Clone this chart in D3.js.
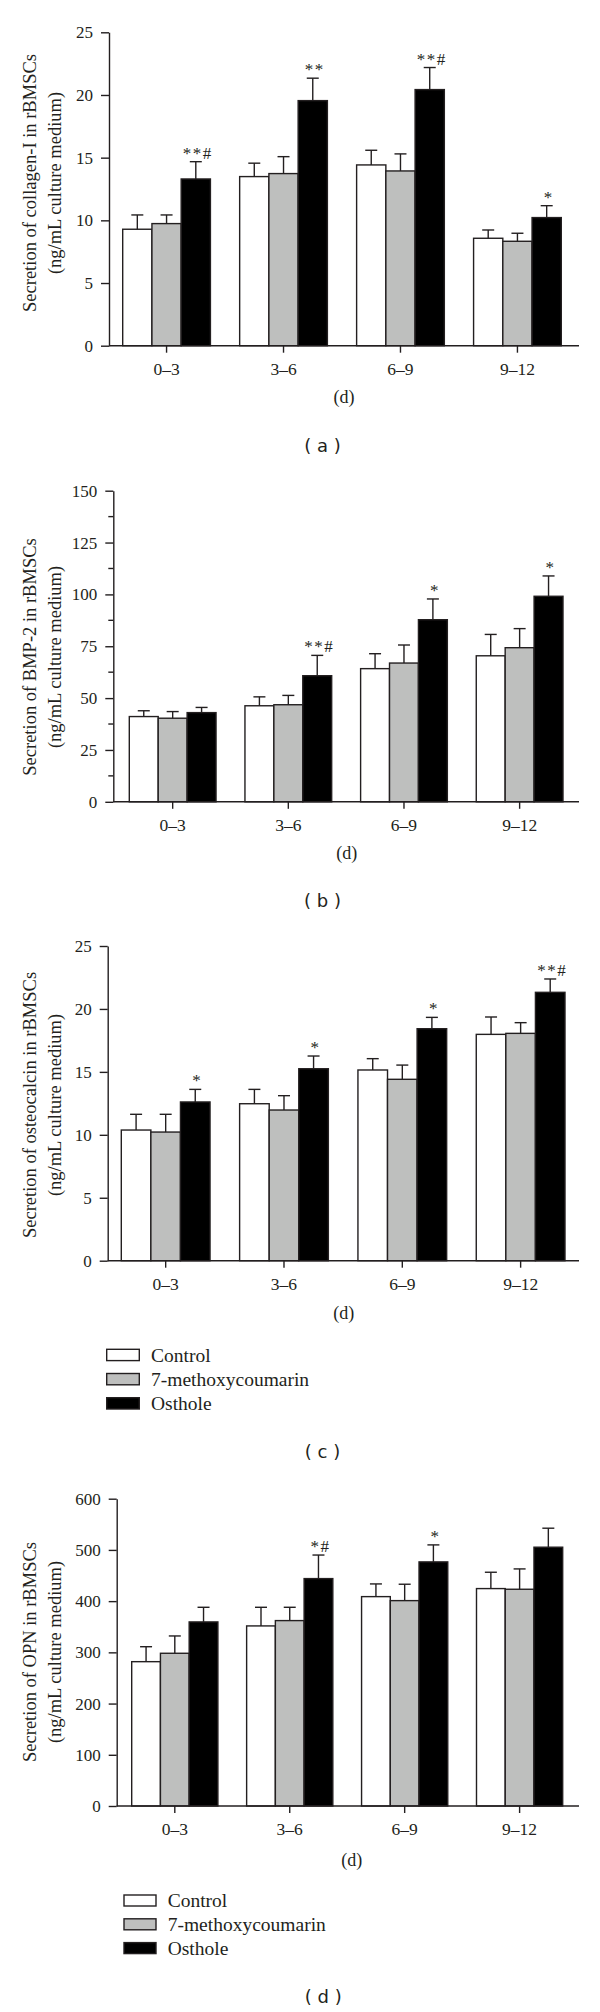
<!DOCTYPE html>
<html><head><meta charset="utf-8">
<script src="https://cdn.jsdelivr.net/npm/d3@7"></script>
<style>body{margin:0;background:#fff}</style>
</head><body>
<svg id="chart" width="600" height="2012"></svg>
<script>
const categories = ["0–3", "3–6", "6–9", "9–12"];
const seriesNames = ["Control", "7-methoxycoumarin", "Osthole"];
const seriesFill = ["#ffffff", "#bebfbe", "#000000"];

// (a) collagen-I
const collagenControl = [9.29, 13.49, 14.42, 8.57];
const collagenControlSD = [1.14, 1.07, 1.17, 0.66];
const collagenMC = [9.74, 13.73, 13.94, 8.33];
const collagenMCSD = [0.69, 1.35, 1.36, 0.64];
const collagenOst = [13.3, 19.55, 20.43, 10.22];
const collagenOstSD = [1.38, 1.79, 1.76, 0.95];
const collagenMarks = ["**#", "**", "**#", "*"];
const collagenTicks = [0, 5, 10, 15, 20, 25];

// (b) BMP-2
const bmpControl = [41.1, 46.3, 64.2, 70.4];
const bmpControlSD = [2.8, 4.3, 7.2, 10.3];
const bmpMC = [40.3, 46.8, 66.9, 74.3];
const bmpMCSD = [3.2, 4.5, 8.7, 9.2];
const bmpOst = [43.0, 60.8, 87.8, 99.1];
const bmpOstSD = [2.5, 9.8, 10.0, 9.8];
const bmpMarks = ["", "**#", "*", "*"];
const bmpTicks = [0, 25, 50, 75, 100, 125, 150];
const bmpMinorTicks = [12.5, 37.5, 62.5, 87.5, 112.5, 137.5];

// (c) osteocalcin
const ocnControl = [10.38, 12.47, 15.15, 17.98];
const ocnControlSD = [1.25, 1.14, 0.9, 1.38];
const ocnMC = [10.22, 11.97, 14.41, 18.06];
const ocnMCSD = [1.41, 1.14, 1.13, 0.85];
const ocnOst = [12.61, 15.25, 18.43, 21.32];
const ocnOstSD = [1.0, 1.01, 0.9, 1.06];
const ocnMarks = ["*", "*", "*", "**#"];
const ocnTicks = [0, 5, 10, 15, 20, 25];

// (d) OPN
const opnControl = [281.8, 351.6, 408.8, 424.5];
const opnControlSD = [29.2, 36.4, 24.8, 31.9];
const opnMC = [298.2, 362, 401, 423.2];
const opnMCSD = [33.8, 26, 32, 39.7];
const opnOst = [359.4, 444, 476.6, 505.3];
const opnOstSD = [28.6, 46, 33.2, 37.1];
const opnMarks = ["", "*#", "*", ""];
const opnTicks = [0, 100, 200, 300, 400, 500, 600];

const panels = [
  {means:[collagenControl, collagenMC, collagenOst], sds:[collagenControlSD, collagenMCSD, collagenOstSD],
   marks:collagenMarks, ticks:collagenTicks, minor:[],
   title:["Secretion of collagen-I in rBMSCs", "(ng/mL culture medium)"], label:"( a )",
   L:{axisX:109, yTop:32.3, yBottom:345.7, gs:122.7, ge:561.3, xEnd:579, titleCy:183,
      d:[344, 397], p:[322.5, 445]}},
  {means:[bmpControl, bmpMC, bmpOst], sds:[bmpControlSD, bmpMCSD, bmpOstSD],
   marks:bmpMarks, ticks:bmpTicks, minor:bmpMinorTicks,
   title:["Secretion of BMP-2 in rBMSCs", "(ng/mL culture medium)"], label:"( b )",
   L:{axisX:113.3, yTop:490.7, yBottom:801.8, gs:129.3, ge:563, xEnd:579, titleCy:657,
      d:[346.7, 853], p:[322.5, 900]}},
  {means:[ocnControl, ocnMC, ocnOst], sds:[ocnControlSD, ocnMCSD, ocnOstSD],
   marks:ocnMarks, ticks:ocnTicks, minor:[],
   title:["Secretion of osteocalcin in rBMSCs", "(ng/mL culture medium)"], label:"( c )",
   L:{axisX:107.7, yTop:946, yBottom:1260.7, gs:121.3, ge:565, xEnd:579, titleCy:1105,
      d:[343.7, 1313], p:[322.5, 1451.7], legend:{x:106.7, y:1349.3, w:32.6, h:11.3, gap:24.2, tx:151}}},
  {means:[opnControl, opnMC, opnOst], sds:[opnControlSD, opnMCSD, opnOstSD],
   marks:opnMarks, ticks:opnTicks, minor:[],
   title:["Secretion of OPN in rBMSCs", "(ng/mL culture medium)"], label:"( d )",
   L:{axisX:116.7, yTop:1498.7, yBottom:1806, gs:131.7, ge:562.7, xEnd:579, titleCy:1652,
      d:[351.7, 1860], p:[323.3, 1996.7], legend:{x:124, y:1895, w:32, h:11, gap:23.8, tx:167.7}}}
];

const svg = d3.select("#chart");
const INK = "#231f20";
const SERIF = "'Liberation Serif', 'Times New Roman', serif";

panels.forEach(P => {
  const L = P.L;
  const g = svg.append("g");
  const max = d3.max(P.ticks);
  const y = d3.scaleLinear().domain([0, max]).range([L.yBottom, L.yTop]);
  const x0 = d3.scaleBand().domain(categories).range([L.gs, L.ge]).paddingInner(0.25).paddingOuter(0);
  const x1 = d3.scaleBand().domain(d3.range(seriesNames.length)).range([0, x0.bandwidth()]);

  // bars
  seriesNames.forEach((s, si) => {
    g.append("g").selectAll("rect").data(P.means[si]).join("rect")
      .attr("x", (d, i) => x0(categories[i]) + x1(si))
      .attr("y", d => y(d))
      .attr("width", x1.bandwidth())
      .attr("height", d => L.yBottom - y(d))
      .attr("fill", seriesFill[si])
      .attr("stroke", INK).attr("stroke-width", 1.4);
  });
  // error bars
  seriesNames.forEach((s, si) => {
    const eg = g.append("g").attr("stroke", INK).attr("stroke-width", 1.4);
    P.means[si].forEach((m, i) => {
      const cx = x0(categories[i]) + x1(si) + x1.bandwidth() / 2;
      const top = y(m + P.sds[si][i]);
      eg.append("line").attr("x1", cx).attr("x2", cx).attr("y1", y(m)).attr("y2", top);
      eg.append("line").attr("x1", cx - 6).attr("x2", cx + 6).attr("y1", top).attr("y2", top);
    });
  });
  // significance marks
  P.marks.forEach((mk, i) => {
    if (!mk) return;
    const cx = x0(categories[i]) + x1(2) + x1.bandwidth() / 2;
    g.append("text").attr("x", cx + 2).attr("y", y(P.means[2][i] + P.sds[2][i]) - 3)
      .attr("text-anchor", "middle").attr("font-family", SERIF).attr("font-size", 17)
      .attr("letter-spacing", 1.5).attr("fill", INK).text(mk);
  });

  // y axis
  const ya = g.append("g").attr("transform", `translate(${L.axisX},0)`)
    .call(d3.axisLeft(y).tickValues(P.ticks).tickSize(8).tickPadding(8).tickSizeOuter(0));
  ya.selectAll("path,line").attr("stroke", INK).attr("stroke-width", 1.4);
  ya.selectAll("text").attr("font-family", SERIF).attr("font-size", 17).attr("fill", INK);
  ya.selectAll(".minor").data(P.minor).join("line").attr("class", "minor")
    .attr("x1", -5).attr("x2", 0).attr("y1", d => y(d)).attr("y2", d => y(d))
    .attr("stroke", INK).attr("stroke-width", 1.4);

  // x axis
  const xa = g.append("g").attr("transform", `translate(0,${L.yBottom})`)
    .call(d3.axisBottom(x0).tickSize(7).tickPadding(10).tickSizeOuter(0));
  xa.select(".domain").remove();
  xa.selectAll("line").attr("stroke", INK).attr("stroke-width", 1.4);
  xa.selectAll("text").attr("font-family", SERIF).attr("font-size", 17.5).attr("fill", INK);
  xa.append("line").attr("x1", L.axisX).attr("x2", L.xEnd).attr("y1", 0).attr("y2", 0)
    .attr("stroke", INK).attr("stroke-width", 1.4);

  // y title
  const tt = g.append("text").attr("transform", `translate(30,${L.titleCy}) rotate(-90)`)
    .attr("text-anchor", "middle").attr("font-family", SERIF).attr("font-size", 18.5).attr("fill", INK);
  tt.append("tspan").attr("x", 0).attr("y", 0).attr("dominant-baseline", "central").text(P.title[0]);
  tt.append("tspan").attr("x", 0).attr("y", 25).attr("dominant-baseline", "central").text(P.title[1]);

  // (d) under axis
  g.append("text").attr("x", L.d[0]).attr("y", L.d[1]).attr("dominant-baseline", "central")
    .attr("text-anchor", "middle").attr("font-family", SERIF).attr("font-size", 18).attr("fill", INK).text("(d)");

  // legend
  if (L.legend) {
    const lg = L.legend;
    seriesNames.forEach((s, si) => {
      const yy = lg.y + si * lg.gap;
      g.append("rect").attr("x", lg.x).attr("y", yy).attr("width", lg.w).attr("height", lg.h)
        .attr("fill", seriesFill[si]).attr("stroke", INK).attr("stroke-width", 1.4);
      g.append("text").attr("x", lg.tx).attr("y", yy + lg.h / 2).attr("dy", "0.35em")
        .attr("font-family", SERIF).attr("font-size", 19.5).attr("fill", INK).text(s);
    });
  }

  // panel label
  g.append("text").attr("x", L.p[0]).attr("y", L.p[1]).attr("dominant-baseline", "central")
    .attr("text-anchor", "middle").attr("font-family", "'DejaVu Sans', sans-serif").attr("font-size", 18)
    .attr("fill", INK).text(P.label);
});
</script>
</body></html>
